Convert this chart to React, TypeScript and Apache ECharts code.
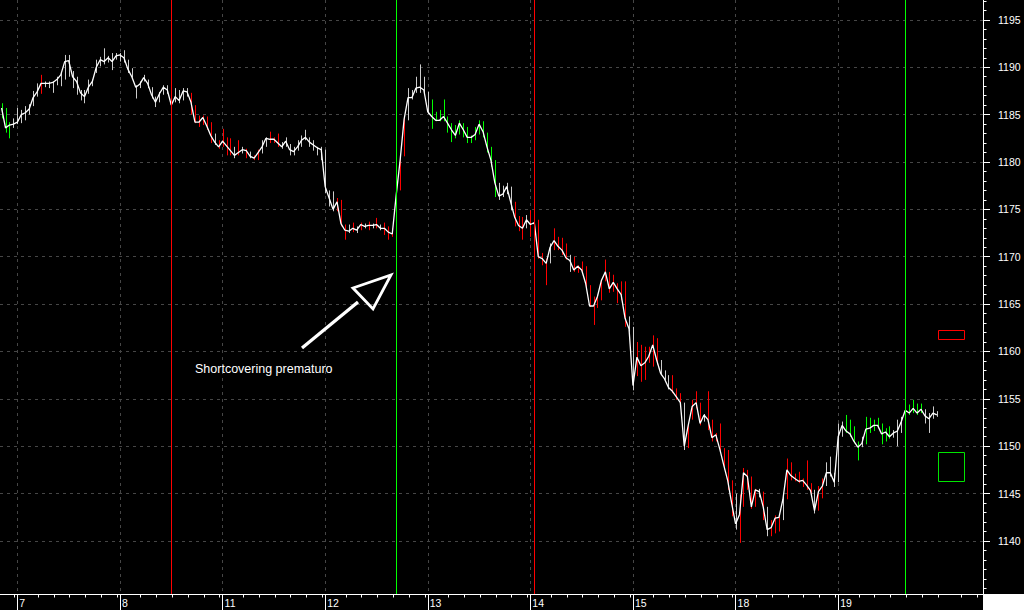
import React, { useEffect, useRef } from 'react';
import * as echarts from 'echarts';

// ---- axis labels / ticks ----
const dayLabels = ['7', '8', '11', '12', '13', '14', '15', '18', '19'];
const dayStarts = [0, 26, 52, 78, 104, 130, 156, 182, 208];
const barsPerDay = 26;
const hourTickOffsets = [5.25, 9.25, 13.25, 17.25, 21.25, 25.25];
const priceLabels = [1140, 1145, 1150, 1155, 1160, 1165, 1170, 1175, 1180, 1185, 1190, 1195];

// ---- 15-minute bars, first bar index ----
const firstBar = -4;
const closes = [
  1185.7, 1183.6, 1183.9, 1184.0, 1184.2, 1185.0, 1185.2, 1185.6, 1186.8, 1187.4,
  1188.3, 1188.3, 1188.3, 1188.4, 1188.7, 1189.2, 1190.6, 1190.7, 1189.0, 1188.5,
  1187.3, 1186.9, 1187.9, 1188.5, 1190.0, 1190.8, 1190.6, 1191.0, 1190.6, 1191.2,
  1191.3, 1191.0, 1189.8, 1189.0, 1187.9, 1188.2, 1188.9, 1188.3, 1187.1, 1186.3,
  1187.2, 1187.9, 1187.6, 1186.0, 1186.9, 1186.5, 1187.5, 1187.4, 1186.3, 1184.2,
  1184.2, 1184.7, 1183.8, 1182.8, 1182.1, 1181.6, 1182.2, 1181.7, 1181.2, 1180.7,
  1181.0, 1181.3, 1181.2, 1180.6, 1180.4, 1181.0, 1181.6, 1182.5, 1182.4, 1182.4,
  1182.0, 1181.6, 1182.2, 1181.3, 1181.1, 1181.6, 1182.3, 1182.6, 1182.1, 1181.8,
  1181.5, 1181.3, 1177.4, 1176.2, 1175.0, 1175.8, 1173.5, 1172.8, 1172.7, 1173.0,
  1172.8, 1173.4, 1173.2, 1173.3, 1173.3, 1173.4, 1173.0, 1173.0, 1172.6, 1172.4,
  1176.5, 1180.2, 1184.5, 1186.8, 1186.8, 1187.8, 1187.9, 1187.6, 1185.3, 1184.8,
  1184.4, 1184.4, 1184.8, 1184.1, 1183.4, 1182.8, 1184.1, 1183.4, 1182.6, 1182.6,
  1182.9, 1184.0, 1183.2, 1181.6, 1180.2, 1177.8, 1176.4, 1176.6, 1177.4, 1175.8,
  1174.2, 1173.3, 1173.0, 1173.9, 1173.4, 1173.6, 1170.0, 1169.8, 1169.3, 1171.0,
  1171.7, 1171.1, 1170.7, 1169.9, 1169.6, 1168.6, 1169.0, 1168.6, 1167.2, 1164.8,
  1164.8, 1165.8, 1167.5, 1168.4, 1166.6, 1167.3, 1166.6, 1166.0, 1163.5, 1162.4,
  1156.4, 1159.4, 1158.5, 1158.8, 1159.5, 1160.7, 1159.1, 1157.7, 1157.1, 1156.2,
  1155.8, 1155.2, 1154.6, 1150.0, 1152.2, 1154.2, 1154.6, 1152.4, 1153.3, 1152.8,
  1150.9, 1151.2, 1149.7, 1148.0, 1146.4, 1144.0, 1141.8, 1142.8, 1147.2, 1146.8,
  1143.6, 1145.4, 1145.2, 1143.6, 1141.2, 1141.4, 1142.4, 1142.5, 1144.4, 1147.5,
  1146.9, 1146.6, 1146.3, 1146.4, 1145.9, 1145.3, 1143.2, 1145.2, 1145.8, 1147.2,
  1147.2, 1146.2, 1151.0, 1152.2, 1151.6, 1151.3, 1150.5, 1149.9, 1150.3, 1151.8,
  1151.9, 1152.2, 1152.2, 1151.3, 1151.5, 1151.0, 1151.4, 1151.6, 1152.6, 1153.8,
  1153.5, 1154.0, 1153.5, 1153.9, 1153.2, 1152.9, 1153.5, 1153.3,
];
const lows = [
  1184.6, 1183.1, 1182.5, 1183.6, 1184.0, 1184.1, 1184.4, 1185.0, 1185.9, 1186.9,
  1187.2, 1187.9, 1187.8, 1187.3, 1188.1, 1188.0, 1188.7, 1189.0, 1187.8, 1187.1,
  1186.5, 1186.2, 1187.2, 1188.0, 1189.4, 1190.1, 1190.3, 1190.5, 1189.7, 1190.8,
  1190.6, 1190.5, 1189.4, 1188.9, 1186.7, 1187.8, 1188.5, 1187.8, 1186.7, 1185.8,
  1186.3, 1187.1, 1187.2, 1185.8, 1186.3, 1186.2, 1186.5, 1186.9, 1185.0, 1184.1,
  1183.7, 1183.9, 1183.4, 1182.0, 1181.8, 1181.4, 1181.6, 1180.7, 1180.7, 1180.4,
  1180.7, 1180.9, 1180.4, 1180.4, 1180.2, 1180.2, 1180.9, 1181.6, 1182.0, 1182.0,
  1181.6, 1181.4, 1181.6, 1180.7, 1180.7, 1181.2, 1181.6, 1182.3, 1181.6, 1181.2,
  1180.7, 1180.2, 1176.7, 1175.3, 1174.8, 1174.8, 1173.2, 1171.8, 1172.5, 1172.6,
  1172.5, 1172.8, 1173.0, 1172.8, 1173.0, 1173.0, 1172.8, 1172.3, 1171.8, 1172.1,
  1172.5, 1177.0, 1180.6, 1184.4, 1186.6, 1187.3, 1187.3, 1187.3, 1185.1, 1183.5,
  1184.3, 1184.3, 1184.3, 1183.1, 1182.1, 1182.5, 1182.9, 1182.6, 1182.0, 1182.0,
  1182.3, 1182.9, 1182.6, 1181.0, 1179.5, 1176.3, 1176.0, 1176.3, 1176.6, 1174.9,
  1173.2, 1172.7, 1171.8, 1173.0, 1172.1, 1172.5, 1169.8, 1169.1, 1167.0, 1169.3,
  1170.7, 1170.7, 1170.2, 1169.7, 1168.4, 1168.4, 1168.3, 1168.4, 1166.5, 1164.7,
  1162.8, 1164.6, 1165.4, 1167.4, 1166.2, 1166.3, 1165.1, 1165.4, 1162.6, 1162.1,
  1155.9, 1157.4, 1156.8, 1157.0, 1158.8, 1158.4, 1158.6, 1157.5, 1157.0, 1156.0,
  1155.6, 1154.9, 1154.2, 1149.6, 1149.8, 1152.8, 1154.0, 1152.2, 1152.6, 1151.7,
  1150.5, 1150.5, 1149.4, 1147.5, 1145.4, 1142.6, 1141.2, 1139.8, 1143.6, 1145.4,
  1143.4, 1143.6, 1144.6, 1142.2, 1140.5, 1140.5, 1140.8, 1141.0, 1142.2, 1144.4,
  1146.4, 1146.3, 1146.1, 1145.7, 1145.4, 1144.7, 1142.9, 1143.2, 1144.5, 1145.8,
  1146.8, 1145.7, 1146.2, 1151.0, 1151.4, 1151.0, 1150.3, 1148.5, 1149.9, 1150.2,
  1151.4, 1151.6, 1151.9, 1150.2, 1150.5, 1150.8, 1150.9, 1150.0, 1151.4, 1152.6,
  1153.3, 1153.5, 1153.3, 1153.5, 1152.4, 1151.4, 1152.9, 1153.1,
];
const highs = [
  1186.2, 1185.7, 1184.2, 1184.6, 1185.7, 1185.5, 1185.9, 1186.1, 1187.5, 1188.3,
  1189.2, 1188.5, 1188.5, 1188.5, 1189.0, 1189.4, 1191.3, 1191.3, 1189.6, 1189.0,
  1187.6, 1187.6, 1188.7, 1188.7, 1190.8, 1191.1, 1192.0, 1191.2, 1191.5, 1191.5,
  1191.5, 1191.8, 1190.8, 1189.9, 1188.1, 1188.5, 1189.2, 1188.7, 1187.9, 1186.9,
  1187.4, 1188.1, 1188.1, 1187.6, 1187.8, 1187.6, 1187.8, 1187.8, 1187.3, 1186.0,
  1184.9, 1184.9, 1184.8, 1184.2, 1183.0, 1182.3, 1183.5, 1182.6, 1182.5, 1181.6,
  1182.3, 1181.6, 1181.4, 1181.1, 1180.7, 1181.3, 1182.3, 1182.6, 1183.2, 1182.6,
  1183.0, 1182.1, 1182.6, 1181.9, 1181.6, 1182.3, 1182.8, 1183.4, 1182.6, 1182.3,
  1181.6, 1181.6, 1181.3, 1177.0, 1176.9, 1176.2, 1176.0, 1173.4, 1173.4, 1173.6,
  1173.2, 1173.6, 1173.5, 1173.7, 1173.5, 1174.1, 1173.4, 1173.6, 1173.2, 1173.0,
  1176.7, 1180.5, 1184.6, 1187.8, 1187.6, 1189.0, 1190.3, 1189.0, 1187.4, 1186.6,
  1185.3, 1185.5, 1186.6, 1184.8, 1184.1, 1183.9, 1184.4, 1184.1, 1183.7, 1182.8,
  1183.7, 1184.4, 1184.3, 1183.1, 1181.6, 1180.2, 1177.8, 1177.5, 1177.8, 1177.4,
  1175.8, 1174.3, 1174.2, 1174.4, 1174.9, 1173.8, 1173.9, 1170.4, 1169.8, 1171.4,
  1173.0, 1172.1, 1172.0, 1171.4, 1170.2, 1170.0, 1169.1, 1169.5, 1169.0, 1167.0,
  1165.8, 1166.0, 1167.6, 1169.7, 1168.4, 1168.1, 1167.2, 1167.4, 1167.4, 1163.7,
  1162.6, 1161.0, 1160.7, 1160.5, 1160.5, 1161.7, 1161.4, 1159.1, 1158.0, 1157.5,
  1157.5, 1156.1, 1155.6, 1154.6, 1152.4, 1154.9, 1155.8, 1154.6, 1153.4, 1155.8,
  1152.8, 1151.4, 1152.4, 1149.8, 1149.6, 1146.4, 1145.0, 1144.9, 1147.7, 1147.5,
  1146.8, 1145.5, 1145.5, 1145.2, 1143.6, 1142.2, 1142.7, 1142.6, 1144.7, 1148.7,
  1148.3, 1147.1, 1147.3, 1146.6, 1148.5, 1146.1, 1145.4, 1145.8, 1146.6, 1148.3,
  1148.9, 1147.2, 1152.4, 1152.6, 1153.3, 1152.8, 1152.1, 1150.5, 1151.0, 1153.1,
  1153.0, 1152.8, 1153.0, 1152.4, 1151.9, 1152.1, 1151.7, 1152.8, 1153.1, 1154.4,
  1154.4, 1154.9, 1154.5, 1154.5, 1153.9, 1153.5, 1154.2, 1153.7,
];
// g = green bar, r = red bar, w = neutral bar
const barColorCodes = [
  'gggwwwwwww', 'rwwwwwwwww', 'wwwwwwwwww', 'wwwwwwwwww', 'wwwwwwwwrr',
  'rrrrwrrrrw', 'rwrwrrwwrr', 'rwwwwwwwww', 'wwwwwrrrwr', 'wrwrwrwrrr',
  'wrrwwwwwwg', 'gggggggggg', 'ggggggwwww', 'rrrwrrrrrw', 'rrrrwrrrrr',
  'rrrrrrrrrw', 'wrrrrrrwww', 'rrrwrrrrwr', 'rrrrrrwrrr', 'rrwrwrrrwr',
  'rrrrrrwrrw', 'wwwwggggwg', 'ggggggwwwg', 'ggggwwww',
].join('');

// vertical event markers (bar index) and price zones
const markers = [
  { bar: 39, color: '#ff0000' },
  { bar: 96, color: '#00ff00' },
  { bar: 131, color: '#ff0000' },
  { bar: 225, color: '#00ff00' },
];
const zones = [
  { fromBar: 233.3, toBar: 239.9, low: 1161.3, high: 1162.3, color: '#ff0000' },
  { fromBar: 233.3, toBar: 239.9, low: 1146.3, high: 1149.4, color: '#00e600' },
];
const annotation = 'Shortcovering prematuro';

const X_MIN = -4.4;
const X_MAX = 244.7;
const Y_MIN = 1134.4;
const Y_MAX = 1197.1;
const FONT = '"Liberation Sans", Arial, sans-serif';
const CODE_ORDER = 'grw';
const BAR_COLORS = ['#00ff00', '#ff0000', '#cccccc'];
const GRID_COLOR = '#464646';

export default function App() {
  const ref = useRef<HTMLDivElement>(null);

  useEffect(() => {
    const chart = echarts.init(ref.current!, null, { renderer: 'svg' });

    const barData = closes.map((_, k) => [k + firstBar, lows[k], highs[k], CODE_ORDER.indexOf(barColorCodes[k])]);
    const lineData = closes.map((c, k) => [k + firstBar, c]);
    const zoneData = zones.map((zn) => [zn.fromBar, zn.toBar, zn.low, zn.high]);

    const minorX: number[] = [];
    for (let s = dayStarts[0] - barsPerDay; s <= dayStarts[dayStarts.length - 1] + barsPerDay; s += barsPerDay) {
      for (const o of hourTickOffsets) {
        const v = s + o;
        if (v > X_MIN && v < X_MAX) minorX.push(v);
      }
    }
    const minorY: number[] = [];
    for (let v = Math.ceil(Y_MIN); v <= Y_MAX; v++) minorY.push(v);

    const option: any = {
      animation: false,
      backgroundColor: '#000000',
      grid: { left: 0, top: 0, right: 41, bottom: 16, containLabel: false },
      xAxis: [
        {
          type: 'value', min: X_MIN, max: X_MAX, position: 'bottom',
          axisLine: { show: true, onZero: false, lineStyle: { color: '#ffffff', width: 1 } },
          axisTick: { show: true, customValues: dayStarts, length: 16, lineStyle: { color: '#ffffff', width: 1 } },
          axisLabel: {
            show: true, customValues: dayStarts,
            formatter: (v: number) => { const k = dayStarts.indexOf(v); return k >= 0 ? dayLabels[k] : ''; },
            color: '#ffffff', fontSize: 10.5, fontFamily: FONT, align: 'left', margin: 3, padding: [0, 0, 0, 2],
          },
          splitLine: { show: true, lineStyle: { color: GRID_COLOR, type: [3, 4], width: 1 } },
        },
        {
          type: 'value', min: X_MIN, max: X_MAX, position: 'bottom',
          axisLine: { show: false, onZero: false },
          axisTick: { show: true, customValues: minorX, length: 3.5, lineStyle: { color: '#ffffff', width: 1 } },
          axisLabel: { show: false },
          splitLine: { show: false },
        },
      ],
      yAxis: [
        {
          type: 'value', min: Y_MIN, max: Y_MAX, position: 'right',
          axisLine: { show: true, onZero: false, lineStyle: { color: '#ffffff', width: 1 } },
          axisTick: { show: true, customValues: priceLabels, length: 7, lineStyle: { color: '#ffffff', width: 1 } },
          axisLabel: {
            show: true, customValues: priceLabels, formatter: (v: number) => String(v),
            color: '#ffffff', fontSize: 10.5, fontFamily: FONT, margin: 15, padding: [3, 0, 0, 0],
          },
          splitLine: { show: true, lineStyle: { color: GRID_COLOR, type: [3, 4], width: 1 } },
        },
        {
          type: 'value', min: Y_MIN, max: Y_MAX, position: 'right',
          axisLine: { show: false, onZero: false },
          axisTick: { show: true, customValues: minorY, length: 3.5, lineStyle: { color: '#ffffff', width: 1 } },
          axisLabel: { show: false },
          splitLine: { show: false },
        },
      ],
      series: [
        {
          type: 'custom',
          name: 'zones',
          xAxisIndex: 0, yAxisIndex: 0,
          data: zoneData,
          encode: { x: [0, 1], y: [2, 3] },
          z: 2,
          renderItem: (params: any, api: any) => {
            const a = api.coord([api.value(0), api.value(3)]);
            const b = api.coord([api.value(1), api.value(2)]);
            const x0 = Math.round(a[0]) + 0.5;
            const y0 = Math.round(a[1]) + 0.5;
            const x1 = Math.round(b[0]) + 0.5;
            const y1 = Math.round(b[1]) + 0.5;
            return {
              type: 'rect',
              shape: { x: x0, y: y0, width: x1 - x0, height: y1 - y0 },
              style: { stroke: zones[params.dataIndex].color, fill: 'none', lineWidth: 1 },
            };
          },
          markLine: {
            silent: true, symbol: ['none', 'none'], label: { show: false },
            data: markers.map((m) => ({ xAxis: m.bar, lineStyle: { color: m.color, width: 1, type: 'solid', opacity: 1 } })),
          },
        },
        {
          type: 'custom',
          name: 'bars',
          xAxisIndex: 0, yAxisIndex: 0,
          data: barData,
          encode: { x: 0, y: [1, 2] },
          z: 3,
          renderItem: (_params: any, api: any) => {
            const x = api.value(0);
            const p1 = api.coord([x, api.value(1)]);
            const p2 = api.coord([x, api.value(2)]);
            const px = Math.round(p1[0]) + 0.5;
            const color = BAR_COLORS[api.value(3)] || BAR_COLORS[2];
            return {
              type: 'line',
              shape: { x1: px, y1: p1[1], x2: px, y2: p2[1] },
              style: { stroke: color, lineWidth: 1 },
            };
          },
        },
        {
          type: 'line',
          name: 'close',
          xAxisIndex: 0, yAxisIndex: 0,
          data: lineData,
          showSymbol: false,
          symbol: 'none',
          z: 4,
          lineStyle: { color: '#ffffff', width: 1.3 },
          itemStyle: { color: '#ffffff' },
        },
      ],
      graphic: [
        { type: 'rect', left: 983, top: 594, shape: { width: 41, height: 16 }, style: { fill: '#ffffff' }, z: 10 },
        { type: 'line', shape: { x1: 302, y1: 348, x2: 358, y2: 302 }, style: { stroke: '#ffffff', lineWidth: 3.3 }, z: 10 },
        {
          type: 'polygon', shape: { points: [[353, 288], [391, 275], [373, 309]] },
          style: { stroke: '#ffffff', fill: 'none', lineWidth: 2.8, lineJoin: 'miter' }, z: 10,
        },
        {
          type: 'text', left: 195, top: 362,
          style: { text: annotation, fill: '#ffffff', font: `12.5px ${FONT}` }, z: 10,
        },
      ],
    };

    chart.setOption(option);
    return () => chart.dispose();
  }, []);

  return (
    <div
      ref={ref}
      style={{ position: 'fixed', left: 0, top: 0, width: 1024, height: 610, background: '#000000' }}
    />
  );
}
